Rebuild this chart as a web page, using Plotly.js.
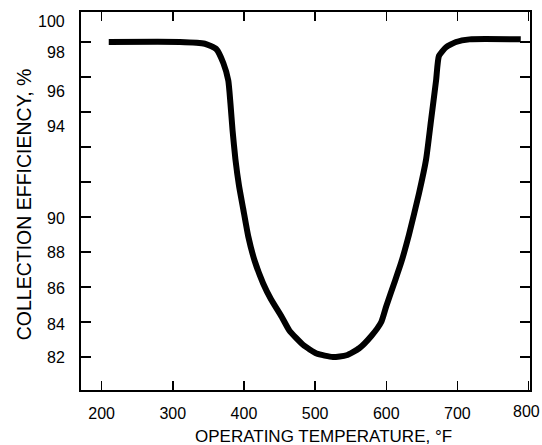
<!DOCTYPE html>
<html>
<head>
<meta charset="utf-8">
<script src="https://cdn.plot.ly/plotly-3.0.1.min.js"></script>
<style>html,body{margin:0;padding:0;background:#fff;}#chart{width:542px;height:445px;}</style>
</head>
<body>
<div id="chart"></div>
<script>
// ---- Data ----
const temperatureF = [210, 310, 345, 361, 371, 378, 381, 384, 388, 393, 399, 406, 415, 427, 438, 453, 464, 483, 502, 525, 544, 562, 579, 593, 600, 611, 621, 632, 646, 656, 663, 670, 674, 684, 698, 717, 789];
const efficiencyPct = [98.0, 98.0, 97.9, 97.6, 96.8, 95.8, 94.5, 93.3, 92.2, 91.2, 90.3, 88.9, 87.5, 86.2, 85.3, 84.3, 83.5, 82.7, 82.2, 82.0, 82.1, 82.5, 83.2, 84.0, 84.9, 86.2, 87.4, 89.0, 90.9, 92.2, 93.7, 95.8, 97.2, 97.7, 98.0, 98.15, 98.15];

const xTickVals = [200, 300, 400, 500, 600, 700, 800];
const xTickLabels = ['200', '300', '400', '500', '600', '700', '800'];

// Efficiency axis (non-uniform, as printed): value breakpoints and tick marks
const scaleValues = [82, 90, 94, 98, 100];
const scaleSteps  = [0, 4, 7, 9, 10];
const yTickMarks = [82, 84, 86, 88, 90, 91.333, 92.667, 94, 96, 98];
const yLabels = ['100', '98', '96', '94', '90', '88', '86', '84', '82'];
const yLabelSteps = [9.6, 8.69, 7.6, 6.6, 3.97, 3.0, 1.97, 0.94, 0.0];

function yPos(v) {
  for (let i = 0; i < scaleValues.length - 1; i++) {
    if (v <= scaleValues[i + 1] || i === scaleValues.length - 2) {
      const t = (v - scaleValues[i]) / (scaleValues[i + 1] - scaleValues[i]);
      return scaleSteps[i] + t * (scaleSteps[i + 1] - scaleSteps[i]);
    }
  }
}

const FONT = 'Liberation Sans, Arial, sans-serif';

const trace = {
  x: temperatureF,
  y: efficiencyPct.map(yPos),
  type: 'scatter',
  mode: 'lines',
  line: {color: '#000', width: 6, shape: 'spline', smoothing: 0.5},
  hoverinfo: 'skip'
};

const annotations = yLabels.map((t, i) => ({
  text: t, xref: 'paper', yref: 'y', x: -0.031, y: yLabelSteps[i],
  xanchor: 'right', yanchor: 'middle', showarrow: false,
  font: {family: FONT, size: 16, color: '#000'}
}));
// last x label sits at the very right edge of the figure
annotations.push({
  text: xTickLabels[xTickLabels.length - 1], xref: 'paper', yref: 'paper',
  x: 1.026, y: -0.0556, xanchor: 'right', yanchor: 'middle', showarrow: false,
  font: {family: FONT, size: 16, color: '#000'}
});
annotations.push({
  text: 'COLLECTION EFFICIENCY, %', xref: 'paper', yref: 'paper',
  x: -0.128, y: 0.49, textangle: -90, xanchor: 'center', yanchor: 'middle',
  showarrow: false, font: {family: FONT, size: 19.5, color: '#000'}
});
annotations.push({
  text: 'OPERATING TEMPERATURE, °F', xref: 'paper', yref: 'paper',
  x: 0.539, y: -0.124, xanchor: 'center', yanchor: 'middle',
  showarrow: false, font: {family: FONT, size: 17, color: '#000'}
});

const layout = {
  width: 542, height: 445,
  margin: {l: 81, r: 12, t: 12, b: 55},
  paper_bgcolor: '#fff', plot_bgcolor: '#fff',
  showlegend: false,
  font: {family: FONT, size: 16, color: '#000'},
  xaxis: {
    range: [171, 802], tickvals: xTickVals,
    ticktext: xTickLabels.map((t, i) => i === xTickLabels.length - 1 ? '' : t),
    ticks: 'inside', ticklen: 9, tickwidth: 1.5, tickcolor: '#000',
    showline: true, linewidth: 2, linecolor: '#000', mirror: 'ticks',
    showgrid: false, zeroline: false, ticklabelstandoff: 8,
    tickfont: {family: FONT, size: 16, color: '#000'}
  },
  yaxis: {
    range: [-0.943, 9.857], tickvals: yTickMarks.map(yPos),
    showticklabels: false,
    ticks: 'inside', ticklen: 10, tickwidth: 1.5, tickcolor: '#000',
    showline: true, linewidth: 2, linecolor: '#000', mirror: 'ticks',
    showgrid: false, zeroline: false
  },
  annotations: annotations
};

Plotly.newPlot('chart', [trace], layout, {staticPlot: true, displayModeBar: false});
</script>
</body>
</html>
